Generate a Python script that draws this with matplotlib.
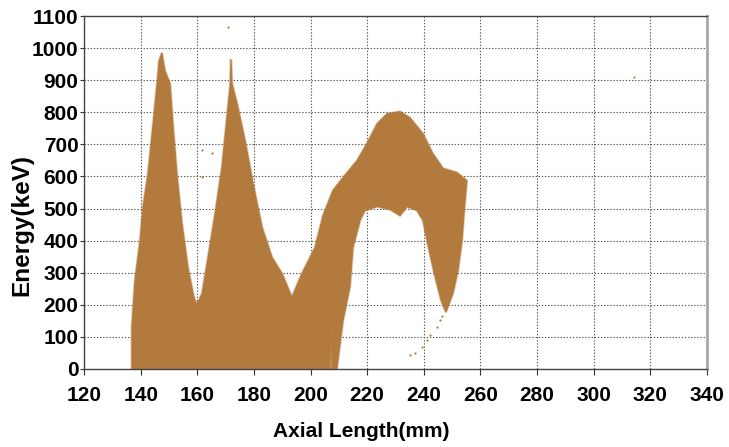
import matplotlib
matplotlib.use("Agg")
import matplotlib.pyplot as plt

plt.rcParams["font.family"] = ["Liberation Sans", "DejaVu Sans"]
plt.rcParams["font.weight"] = "bold"

# Outline of the dense event cloud (axial length in mm, energy in keV),
# traced counter-clockwise from the lower-left corner.
cloud_x = [136.9, 136.9, 138.0, 139.8, 140.8, 142.6, 144.4, 145.8, 146.5, 147.5,
           148.6, 150.4, 151.4, 152.8, 154.6, 156.7, 158.5, 159.5, 160.6, 161.7,
           163.8, 166.3, 168.7, 170.8, 171.6, 171.9, 172.3, 174.4, 176.9, 179.7,
           182.9, 186.4, 189.9, 193.4, 197.0, 201.6, 204.4, 207.9, 211.5, 216.4,
           219.9, 223.5, 227.0, 231.6, 235.1, 239.7, 243.2, 246.8, 251.7, 255.2,
           254.2, 253.5, 252.1, 250.3, 247.8, 246.1, 243.6, 241.5, 239.7, 237.6,
           234.1, 231.6, 228.1, 223.5, 219.2, 217.5, 215.0, 213.9, 211.5, 209.7,
           209.3, 207.5, 207.2, 206.9]
cloud_y = [0, 130, 277, 401, 503, 609, 764, 889, 960, 985,
           929, 889, 764, 609, 454, 317, 236, 205, 214, 236,
           348, 485, 628, 814, 882, 966, 889, 814, 711, 578,
           441, 348, 298, 224, 298, 379, 478, 556, 597, 649,
           702, 764, 795, 802, 783, 733, 671, 625, 612, 587,
           485, 401, 308, 236, 177, 214, 301, 385, 463, 494,
           506, 478, 497, 506, 494, 463, 379, 255, 152, 28,
           0, 0, 168, 0]

# Sparse events outside the dense cloud
stray_x = [235.1, 236.9, 239.4, 241.1, 242.2, 244.7, 245.7, 246.5,
           170.9, 314.2, 161.7, 161.7, 165.2]
stray_y = [43, 50, 68, 90, 106, 130, 152, 165,
           1066, 910, 683, 597, 674]

x_ticks = list(range(120, 341, 20))
y_ticks = list(range(0, 1101, 100))

brown = "#B27A3C"

fig = plt.figure(figsize=(7.29, 4.47), dpi=100)
ax = fig.add_axes([84 / 729, 1 - 369 / 447, (707 - 84) / 729, (369 - 16) / 447])

ax.fill(cloud_x, cloud_y, facecolor=brown, edgecolor=brown, linewidth=0.6, zorder=2)
# faint fringe where the events thin out at the cloud's edge
ax.fill(cloud_x, cloud_y, facecolor="none", edgecolor=brown, linewidth=1.8,
        alpha=0.45, zorder=2)
ax.scatter(stray_x, stray_y, s=2.5, color=brown, linewidths=0, zorder=2)

ax.set_xlim(120, 340)
ax.set_ylim(0, 1100)
ax.set_xticks(x_ticks)
ax.set_yticks(y_ticks)
ax.tick_params(axis="x", direction="out", length=4, width=0.8, pad=8,
               labelsize=15, colors="#333333", labelcolor="black")
ax.tick_params(axis="y", direction="out", length=3, width=0.8, pad=1,
               labelsize=15, colors="#333333", labelcolor="black")
for lab in ax.get_xticklabels() + ax.get_yticklabels():
    lab.set_fontweight("bold")

ax.set_axisbelow(True)
ax.grid(True, linestyle=(0, (1.2, 1.6)), color="#555555", linewidth=0.8)

for side in ("left", "bottom", "top"):
    ax.spines[side].set_color("#444444")
    ax.spines[side].set_linewidth(1.0)
ax.spines["right"].set_color("#a8a8a8")
ax.spines["right"].set_linewidth(2.0)

fig.text(361 / 729, 1 - 437 / 447, "Axial Length(mm)", ha="center", va="baseline",
         fontsize=15, fontweight="bold")
fig.text(22 / 729, 1 - 225 / 447, "Energy(keV)", ha="center", va="center",
         rotation=90, fontsize=17.5, fontweight="bold")

fig.savefig("out.png", dpi=100)
